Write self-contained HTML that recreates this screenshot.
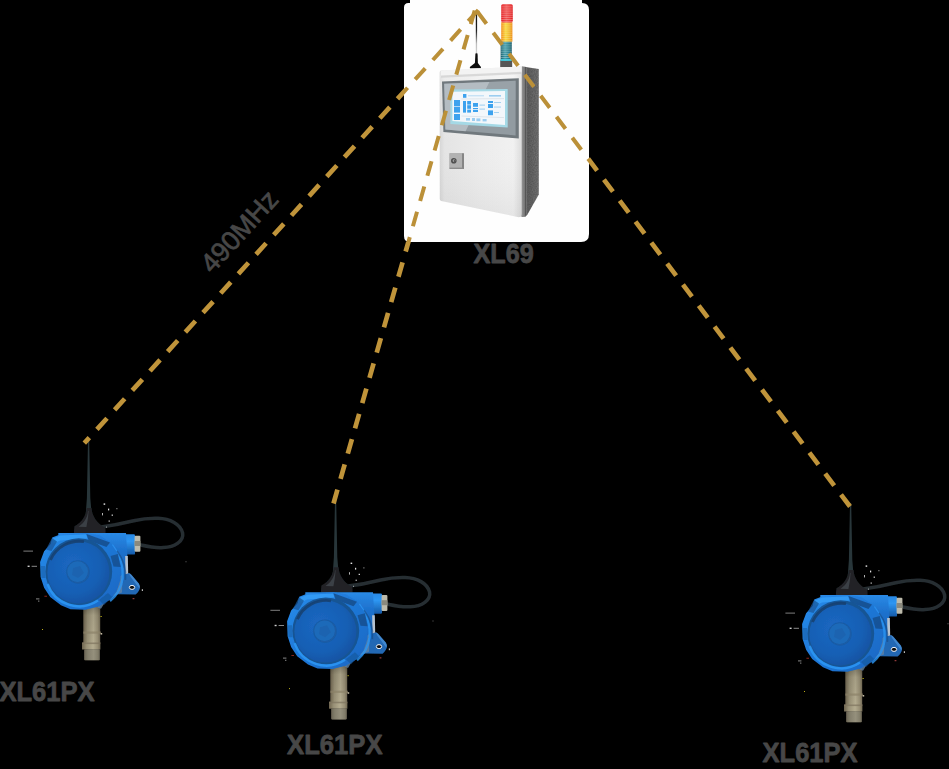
<!DOCTYPE html>
<html>
<head>
<meta charset="utf-8">
<title>XL69 wireless topology</title>
<style>
  html, body { margin: 0; padding: 0; background: #000; }
  body { width: 949px; height: 769px; overflow: hidden; position: relative;
         font-family: "Liberation Sans", sans-serif; }
  svg { position: absolute; left: 0; top: 0; display: block; }
  .lbl { font-family: "Liberation Sans", sans-serif; font-weight: bold; fill: #474747; font-size: 27.4px; stroke:#474747; stroke-width:0.8px; stroke-linejoin:round; }
  .freq { font-family: "Liberation Sans", sans-serif; font-weight: normal; fill: #474747; font-size: 26.9px; stroke:#474747; stroke-width:0.7px; }
</style>
</head>
<body>
<svg width="949" height="769" viewBox="0 0 949 769">
  <defs>
    <clipPath id="inCard"><rect x="404" y="0" width="185" height="242"/></clipPath>
    <clipPath id="outCard"><path clip-rule="evenodd" d="M0 0H949V769H0Z M404 0H589V242H404Z"/></clipPath>
    <!-- DETECTOR-DEFS -->
    <filter id="soft" x="-5%" y="-5%" width="110%" height="110%"><feGaussianBlur stdDeviation="0.55"/></filter>
    <filter id="soft2" x="-5%" y="-5%" width="110%" height="110%"><feGaussianBlur stdDeviation="0.9"/></filter>
    <radialGradient id="lidG" cx="0.42" cy="0.40" r="0.62">
      <stop offset="0" stop-color="#1b68c2"/>
      <stop offset="0.7" stop-color="#175fb4"/>
      <stop offset="1" stop-color="#1454a4"/>
    </radialGradient>
    <linearGradient id="rimG" x1="0" y1="0" x2="1" y2="1">
      <stop offset="0" stop-color="#288dec"/>
      <stop offset="0.45" stop-color="#1f79d8"/>
      <stop offset="1" stop-color="#1966c2"/>
    </linearGradient>
    <linearGradient id="bodyG" x1="0" y1="0" x2="0" y2="1">
      <stop offset="0" stop-color="#2a8ae6"/>
      <stop offset="0.25" stop-color="#1d70cc"/>
      <stop offset="1" stop-color="#165aa8"/>
    </linearGradient>
    <linearGradient id="glandG" x1="0" y1="0" x2="0" y2="1">
      <stop offset="0" stop-color="#2888e4"/>
      <stop offset="0.35" stop-color="#2d96f2"/>
      <stop offset="1" stop-color="#165aa8"/>
    </linearGradient>
    <linearGradient id="probeG" x1="0" y1="0" x2="1" y2="0">
      <stop offset="0" stop-color="#6e644f"/>
      <stop offset="0.25" stop-color="#989076"/>
      <stop offset="0.6" stop-color="#b4ac90"/>
      <stop offset="0.85" stop-color="#988f75"/>
      <stop offset="1" stop-color="#746b56"/>
    </linearGradient>
    <linearGradient id="probeShade" x1="0" y1="0" x2="0" y2="1">
      <stop offset="0" stop-color="#000" stop-opacity="0.30"/>
      <stop offset="0.25" stop-color="#000" stop-opacity="0.08"/>
      <stop offset="1" stop-color="#000" stop-opacity="0"/>
    </linearGradient>
    <g id="det">
      <!-- antenna rod -->
      <polygon points="88.0,441 89.2,441 90.3,498 91.8,516 85.6,516 86.9,498" fill="#28363a"/>
      <!-- cable -->
      <path d="M98 527.4 C108 526.2 122 523.8 133.7 520.8 C142 518.8 150 518.1 158 518.3 C170 518.7 180.6 524 182.6 533 C184 541 175 547.1 163.2 547.6 C154 548.1 146 546.2 139.5 544.8" fill="none" stroke="#262d33" stroke-width="3.5" stroke-linecap="round" filter="url(#soft)"/>
      <!-- antenna base -->
      <path d="M86.6 508 C86.2 516 81.5 522.4 74.4 526.2 L73.8 533.4 L105.6 533.4 L105.4 527.6 C97 523.4 92 516 91.6 508 Z" fill="#202428" filter="url(#soft)"/>
      <path d="M88 511 C87.5 518 84 523 78.5 526.8 L86.4 527 C87.4 522 88.2 517 88.6 511 Z" fill="#4d555b" opacity="0.6" filter="url(#soft)"/>
      <!-- probe -->
      <g filter="url(#soft)">
        <rect x="83.3" y="606" width="16.9" height="37" fill="url(#probeG)"/>
        <rect x="83.3" y="606" width="16.9" height="37" fill="url(#probeShade)"/>
        <rect x="83.3" y="631.5" width="17.6" height="2.2" fill="#8b8168" opacity="0.7"/>
        <rect x="82" y="642.5" width="18.4" height="7" fill="url(#probeG)"/>
        <rect x="82" y="642.5" width="18.4" height="1.6" fill="#7d745e" opacity="0.7"/>
        <rect x="84.2" y="649.2" width="15.6" height="11" rx="0.8" fill="url(#probeG)"/>
        <rect x="84.2" y="649.2" width="15.6" height="11" rx="0.8" fill="#66675e" opacity="0.4"/>
      </g>
      <!-- housing body (behind lid) -->
      <g filter="url(#soft)">
        <!-- mounting ear -->
        <path d="M116 574.6 L123.9 574.4 L128.6 573 Q130.4 573.4 131.6 575 L138.8 583.4 Q140.2 585.4 139.8 588.4 Q139.4 591 135.6 594.6 L117 594.2 Z" fill="#2268b4"/>
        <path d="M128.6 573 Q130.4 573.4 131.6 575 L138.8 583.4 Q140.2 585.4 139.8 588.4 L138.2 587 L130.4 576.6 Z" fill="#5aa0e4" opacity="0.55"/>
        <ellipse cx="132" cy="587.4" rx="2.7" ry="2" fill="#0a0a0a" stroke="#eef2f8" stroke-width="1"/>
        <!-- gland -->
        <rect x="124" y="534.2" width="11" height="20.4" rx="1.2" fill="url(#glandG)"/>
        <rect x="134.6" y="535.8" width="5.8" height="16" rx="1" fill="#bdbbac"/>
        <rect x="134.6" y="541" width="5.8" height="5" fill="#8a897d"/>
        <!-- main body -->
        <path d="M58.3 533 L126 533 L127.4 556 L127.2 574 L118 594 L100 606 L58 590 Z" fill="url(#bodyG)"/>
        <path d="M125.2 556 L127.8 556 L128.2 573.4 L125.4 574.2 Z" fill="#b7c2cf"/>
        <path d="M115.8 580 L122.4 574.6 L122 592.6 L112.6 596 Z" fill="#5c7fa4" opacity="0.85"/>
        <path d="M99.5 600.5 L108 597.4 L101 608.8 L97.4 607.4 Z" fill="#5b7b9c" opacity="0.85"/>
        <!-- flange highlight (right of lid) -->
        <path d="M112 545 Q124 560 122.6 578 Q121 592 110 601" fill="none" stroke="#2c96f4" stroke-width="2.4" opacity="0.8"/>
        <path d="M117 551 Q127 564 125.4 580" fill="none" stroke="#174a82" stroke-width="1.6" opacity="0.6"/>
      </g>
      <!-- lid -->
      <g filter="url(#soft)">
        <path d="M60 534.5 L52.2 537.6 L50.6 544 L44.1 551.2 L40.1 562 L40.6 577 L44.1 587.7 L50.2 597.1 L61 605.2 L70.5 609.3 L85.4 609.7 L98.9 606.6 L109.7 599.8 L116.6 591.4 L120.4 580 L121 566 L117.6 553 L110 542 L99 535 L86 533 Z" fill="url(#rimG)"/>
        <!-- rim top highlight -->
        <path d="M53 538.5 L60.5 535.6 L86 534.2 L87.6 538.4 L60 540.4 L53.4 543.6 Z" fill="#37a2fa" opacity="0.75"/>
        <!-- notch shadows on rim -->
        <path d="M86.5 534 L88.6 540.6 L106.5 547 L110 542.5 Z" fill="#164a86" opacity="0.8"/>
        <path d="M110.5 556 L117.8 554 L120.6 567 L113.5 566.5 Z" fill="#164a86" opacity="0.75"/>
        <path d="M52 538 L57 541.5 L51.5 551 L46 549.5 Z" fill="#19589c" opacity="0.75"/>
        <path d="M99 600 L104 605 L112 597 L108 593 Z" fill="#19589c" opacity="0.65"/>
        <path d="M41 566 L45 566 L45.6 578 L41.4 578 Z" fill="#19589c" opacity="0.5"/>
        <!-- dark groove ring -->
        <circle cx="78.8" cy="571.6" r="33.4" fill="#185494"/>
        <!-- lid face -->
        <circle cx="78.4" cy="572.4" r="31" fill="url(#lidG)"/>
        <!-- deeper shadow upper-left of groove -->
        <path d="M50.5 560 A31.5 31.5 0 0 1 84 541.6" fill="none" stroke="#173f6e" stroke-width="2.8" opacity="0.85"/>
        <!-- highlight arc lower-left/bottom -->
        <path d="M47.6 584 A33.6 33.6 0 0 0 98 600.6" fill="none" stroke="#2b98f6" stroke-width="2.4" opacity="0.85"/>
        <!-- centre boss -->
        <circle cx="78" cy="572" r="11.8" fill="#1a5ca6"/>
        <circle cx="77.6" cy="571.6" r="10.3" fill="#1e6bb9"/>
        <path d="M73 568 L80 566 L84 573 L78 578 L72 575 Z" fill="#195ca8" opacity="0.5"/>
      </g>
      <!-- stray matte speckles -->
      <g fill="#e4e4e4">
        <rect x="23.4" y="550.6" width="9.6" height="1" opacity="0.55"/>
        <rect x="27.6" y="565.6" width="2" height="1.4" opacity="0.9"/>
        <rect x="31.6" y="565.8" width="5.4" height="1" opacity="0.6"/>
        <rect x="36" y="598.4" width="3.4" height="1" opacity="0.6"/>
        <rect x="38" y="600.6" width="1.4" height="1" opacity="0.6"/>
        <rect x="103.6" y="503.4" width="1.6" height="1.4"/>
        <rect x="108" y="508.6" width="1.2" height="1.8"/>
        <rect x="102" y="513" width="1" height="2.4" opacity="0.8"/>
        <rect x="111.6" y="514.6" width="1.4" height="1.1"/>
        <rect x="108.6" y="520.4" width="1.2" height="1.4" opacity="0.8"/>
        <rect x="116.4" y="508.2" width="1" height="1" opacity="0.8"/>
        <rect x="106" y="526.6" width="1" height="1" opacity="0.7"/>
        <rect x="141.8" y="589.2" width="1.2" height="1.8" opacity="0.8"/>
        <rect x="185.6" y="561.4" width="0.8" height="0.8" opacity="0.7"/>
      </g>
      <rect x="44.4" y="595.8" width="2.6" height="0.8" fill="#d23a2a" opacity="0.8"/>
      <rect x="132.6" y="598.2" width="1.8" height="1" fill="#e05a5a" opacity="0.8"/>
      <rect x="42" y="629" width="0.9" height="0.9" fill="#e8d820"/>
      <rect x="100.6" y="616" width="1" height="1" fill="#e8d820"/>
      <rect x="100.6" y="633" width="1.6" height="1.6" fill="#d8ceb4" opacity="0.9"/>
    </g>
    <!-- CABINET-DEFS -->
    <linearGradient id="frontG" x1="0" y1="0" x2="1" y2="0">
      <stop offset="0" stop-color="#d6d6d6"/>
      <stop offset="0.06" stop-color="#e4e4e4"/>
      <stop offset="0.5" stop-color="#ececec"/>
      <stop offset="0.9" stop-color="#f1f1f1"/>
      <stop offset="1" stop-color="#dcdcdc"/>
    </linearGradient>
    <linearGradient id="frontV" x1="0" y1="0" x2="0" y2="1">
      <stop offset="0" stop-color="#fff" stop-opacity="0.35"/>
      <stop offset="0.5" stop-color="#fff" stop-opacity="0"/>
      <stop offset="1" stop-color="#000" stop-opacity="0.05"/>
    </linearGradient>
    <linearGradient id="stripG" x1="0" y1="0" x2="1" y2="0">
      <stop offset="0" stop-color="#cacaca"/>
      <stop offset="0.35" stop-color="#8e8e8e"/>
      <stop offset="1" stop-color="#6c6c6c"/>
    </linearGradient>
    <linearGradient id="sideG" x1="0" y1="0" x2="1" y2="0">
      <stop offset="0" stop-color="#6e6e6e"/>
      <stop offset="0.3" stop-color="#5e5e5e"/>
      <stop offset="1" stop-color="#727272"/>
    </linearGradient>
    <linearGradient id="bezelG" x1="0" y1="0" x2="1" y2="1">
      <stop offset="0" stop-color="#b9c1c6"/>
      <stop offset="0.45" stop-color="#aab2b8"/>
      <stop offset="0.46" stop-color="#98a1a7"/>
      <stop offset="1" stop-color="#8f989e"/>
    </linearGradient>
    <linearGradient id="redG" x1="0" y1="0" x2="1" y2="0">
      <stop offset="0" stop-color="#e41c20"/>
      <stop offset="0.45" stop-color="#ef5250"/>
      <stop offset="0.8" stop-color="#e83232"/>
      <stop offset="1" stop-color="#dc1c20"/>
    </linearGradient>
    <linearGradient id="yelG" x1="0" y1="0" x2="1" y2="0">
      <stop offset="0" stop-color="#f28c14"/>
      <stop offset="0.4" stop-color="#f9d83e"/>
      <stop offset="0.75" stop-color="#efb428"/>
      <stop offset="1" stop-color="#ee8c14"/>
    </linearGradient>
    <linearGradient id="tealG" x1="0" y1="0" x2="1" y2="0">
      <stop offset="0" stop-color="#125a68"/>
      <stop offset="0.4" stop-color="#3a9aa8"/>
      <stop offset="0.8" stop-color="#17707e"/>
      <stop offset="1" stop-color="#0f525e"/>
    </linearGradient>
    <linearGradient id="rodG" x1="0" y1="0" x2="0" y2="1">
      <stop offset="0" stop-color="#111"/>
      <stop offset="0.35" stop-color="#222"/>
      <stop offset="0.62" stop-color="#bdbdbd"/>
      <stop offset="0.8" stop-color="#cfcfcf"/>
      <stop offset="0.86" stop-color="#111"/>
      <stop offset="1" stop-color="#000"/>
    </linearGradient>
    <pattern id="stripe" x="0" y="0" width="4" height="1.9" patternUnits="userSpaceOnUse">
      <rect x="0" y="0" width="4" height="0.8" fill="#fff" opacity="0.42"/>
    </pattern>
    <filter id="grain" x="0" y="0" width="100%" height="100%">
      <feTurbulence type="fractalNoise" baseFrequency="0.9" numOctaves="2" seed="3" result="n"/>
      <feColorMatrix type="matrix" values="0 0 0 0 0  0 0 0 0 0  0 0 0 0 0  0.9 0 0 0 -0.25" in="n" result="a"/>
      <feComposite in="a" in2="SourceGraphic" operator="in"/>
    </filter>
  </defs>

  <!-- white card behind the cabinet -->
  <path d="M404 7.5 Q404 3 408.5 3 L410 3 L410 0 L582 0 L582 3 Q589 3 589 10 L589 234 Q589 242 581 242 L410 242 Q404 242 404 236 Z" fill="#fefefe"/>

  <!-- CABINET -->
  <g filter="url(#soft)">
    <!-- tower light -->
    <rect x="500.2" y="60.6" width="12" height="6.6" fill="#575757"/>
    <rect x="500.6" y="41.4" width="11.2" height="19.6" fill="url(#tealG)"/>
    <rect x="500.6" y="41.4" width="11.2" height="19.6" fill="url(#stripe)"/>
    <rect x="500.6" y="59.2" width="11.2" height="1.6" fill="#45cfe4"/>
    <rect x="501.2" y="22.2" width="11.2" height="19.4" fill="url(#yelG)"/>
    <rect x="501.2" y="22.2" width="11.2" height="19.4" fill="url(#stripe)" opacity="0.6"/>
    <rect x="501.2" y="4.2" width="11.6" height="18.2" rx="1.6" fill="url(#redG)"/>
    <rect x="501.2" y="5.2" width="11.6" height="17.2" fill="url(#stripe)" opacity="0.85"/>
    <!-- antenna -->
    <rect x="475.8" y="14" width="1.3" height="48" fill="url(#rodG)"/>
    <path d="M475.5 53.5 L477.5 53.5 L477.9 63 L480.9 67 L480.9 68.3 L469.9 68.3 L469.9 67 L474.9 63 Z" fill="#0b0b0b"/>
    <!-- side panel -->
    <path d="M522 66.4 L538.8 69 L538.8 194.5 L527 215.2 L522 217 Z" fill="url(#sideG)"/>
    <path d="M522 66.4 L538.8 69 L538.8 194.5 L527 215.2 L522 217 Z" fill="#000" filter="url(#grain)" opacity="0.35"/>
    <rect x="520.4" y="66.8" width="5.4" height="150" fill="url(#stripG)"/>
    <rect x="525.4" y="67" width="0.9" height="148.6" fill="#4a4a4a"/>
    <rect x="526.3" y="67.4" width="0.8" height="147.4" fill="#8a8a8a" opacity="0.7"/>
    <!-- front -->
    <path d="M439.6 72.4 Q439.6 70.6 441.4 70.4 L521.6 66.6 L521.6 213.5 Q521.6 217.8 517.5 217 L441.2 201 Q439.8 200.6 439.8 199 Z" fill="url(#frontG)"/>
    <path d="M439.6 72.4 Q439.6 70.6 441.4 70.4 L521.6 66.6 L521.6 213.5 Q521.6 217.8 517.5 217 L441.2 201 Q439.8 200.6 439.8 199 Z" fill="url(#frontV)"/>
    <!-- top bevel -->
    <path d="M441 70.6 L521.6 66.6 L521.6 72.4 L441 76.2 Z" fill="#f3f3f3"/>
    <path d="M441 75.6 L521.6 71.8 L521.6 74 L441 77.8 Z" fill="#d2d2d2" opacity="0.8"/>
    <!-- screen bezel -->
    <path d="M442 81.5 L518.8 78.2 L518.8 138.6 L443.4 132 Z" fill="#70787d"/>
    <path d="M444.2 83.8 L515.6 80.8 L515.6 135.4 L445.4 129.6 Z" fill="#929ba1"/>
    <path d="M444.2 83.8 L489.5 81.9 L465.6 131.3 L445.4 129.6 Z" fill="#b4bcc2"/>
    <path d="M489.5 81.9 L515.6 80.8 L515.6 100 L480 101 Z" fill="#9ea7ad" opacity="0.6"/>
    <!-- glass frame -->
    <path d="M450.4 89.5 L507.7 89 L507.7 127.5 L450.4 124 Z" fill="#a5d9e6"/>
    <path d="M452.4 91.7 L505 91 L505 124.9 L452.4 120.9 Z" fill="#f3f7fb"/>
    <!-- UI on screen -->
    <g fill="#3ea2ee">
      <rect x="454" y="100" width="6" height="6.2"/>
      <rect x="454" y="106.8" width="6" height="5.8"/>
      <rect x="454" y="114" width="6" height="6"/>
      <rect x="463" y="94" width="3.4" height="3.8"/>
      <rect x="463" y="101" width="3" height="11.6"/>
      <rect x="467.2" y="101" width="3.8" height="3.6"/>
      <rect x="467.2" y="105.2" width="3.8" height="3.6"/>
      <rect x="467.2" y="109.6" width="3.8" height="3"/>
      <rect x="473" y="103" width="5" height="3.8"/>
      <rect x="473" y="108" width="5" height="1.2"/>
      <rect x="473" y="110" width="5" height="2"/>
      <rect x="488" y="101" width="5" height="2"/>
      <rect x="488" y="104" width="5" height="4"/>
      <rect x="488" y="110.4" width="5" height="4.8"/>
    </g>
    <g fill="#9ccdf0">
      <rect x="468" y="95" width="16" height="1.4" opacity="0.5"/>
      <rect x="489" y="95" width="12" height="1.6"/>
      <rect x="479.5" y="104.6" width="5.5" height="1"/>
      <rect x="479.5" y="108.6" width="5.5" height="1"/>
      <rect x="494" y="102" width="7" height="0.9"/>
      <rect x="494" y="106.6" width="7" height="0.9"/>
      <rect x="494" y="112" width="5" height="0.9"/>
      <rect x="466" y="118" width="4" height="2.6"/>
      <rect x="472" y="118" width="3" height="3"/>
      <rect x="476.4" y="118.4" width="4" height="2.8"/>
      <rect x="482.6" y="119" width="4" height="2.4"/>
    </g>
    <path d="M461.5 99 L504 98.6 M461.5 116 L504 117.6" stroke="#d6dde4" stroke-width="0.7" fill="none"/>
    <!-- lock -->
    <rect x="449.2" y="153" width="14.8" height="16" rx="0.8" fill="#b2b2b2"/>
    <rect x="462" y="153.4" width="2" height="15.6" fill="#858585"/>
    <rect x="449.6" y="167.6" width="14" height="1.4" fill="#8c8c8c"/>
    <circle cx="453.8" cy="160.8" r="2.8" fill="#4e4e4e"/>
    <circle cx="454" cy="160.8" r="1.3" fill="#c9c9c9"/>
    <rect x="453.6" y="160" width="1.4" height="2.6" fill="#5a5a5a"/>
  </g>

  <!-- DETECTORS -->
  <use href="#det" x="0" y="0"/>
  <use href="#det" x="247" y="59.2"/>
  <use href="#det" x="762" y="62"/>

  <!-- dashed radio links -->
  <g fill="none" stroke="#bb9038" stroke-width="4.0" stroke-dasharray="15.0 11.277" clip-path="url(#inCard)">
    <line x1="478.3" y1="10" x2="84.3" y2="443.2"/>
    <line x1="474.7" y1="10.5" x2="333.5" y2="503.5" stroke-dashoffset="0.8"/>
    <line x1="477.45" y1="11.76" x2="850" y2="506.5"/>
  </g>
  <g fill="none" stroke="#c0943a" stroke-width="4.7" stroke-dasharray="15.0 11.277" clip-path="url(#outCard)">
    <line x1="478.3" y1="10" x2="84.3" y2="443.2"/>
    <line x1="474.7" y1="10.5" x2="333.5" y2="503.5" stroke-dashoffset="0.8"/>
    <line x1="477.45" y1="11.76" x2="850" y2="506.5"/>
  </g>

  <!-- labels -->
  <text class="lbl" x="473.5" y="263.4" textLength="60.2" lengthAdjust="spacingAndGlyphs">XL69</text>
  <text class="lbl" x="-0.6" y="700.7" textLength="95.2" lengthAdjust="spacingAndGlyphs">XL61PX</text>
  <text class="lbl" x="287.1" y="753.6" textLength="95.4" lengthAdjust="spacingAndGlyphs">XL61PX</text>
  <text class="lbl" x="762.6" y="761.6" textLength="94.9" lengthAdjust="spacingAndGlyphs">XL61PX</text>
  <text class="freq" transform="translate(212.3,274.6) rotate(-47.7)" x="0" y="0">490MHz</text>
</svg>
</body>
</html>
